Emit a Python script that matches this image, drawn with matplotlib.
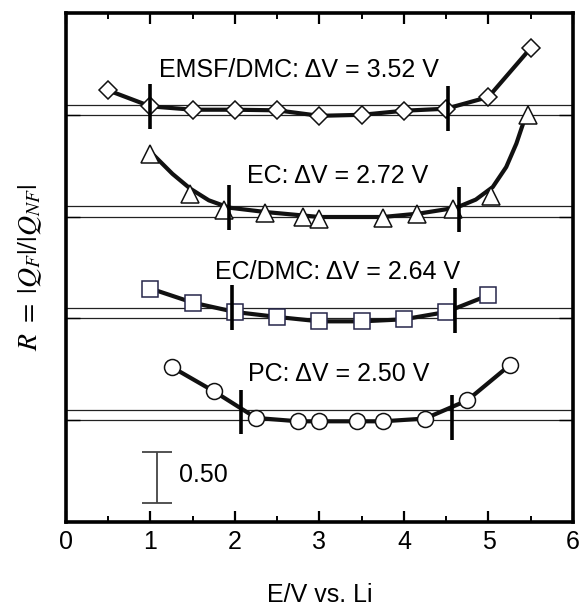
# R = |QF|/|QNF| vs potential for four electrolytes (stacked, offset by 1)
import numpy as np
import matplotlib.pyplot as plt
from matplotlib.ticker import MultipleLocator

plt.rcParams['font.family'] = ['Liberation Sans', 'DejaVu Sans']
plt.rcParams['mathtext.fontset'] = 'stix'

# --- data ---
# EMSF/DMC (diamonds)
emsf_x = [0.5, 1.0, 1.5, 2.0, 2.5, 3.0, 3.5, 4.0, 4.5, 5.0, 5.5]
emsf_r = [1.24, 1.083, 1.05, 1.05, 1.044, 0.99, 1.0, 1.04, 1.06, 1.175, 1.656]
emsf_lim = [1.0, 4.52]
emsf_bar_r = [1.085, 1.06]

# EC (triangles) + its smooth trend curve
ec_x = [1.0, 1.47, 1.87, 2.36, 2.8, 3.0, 3.75, 4.16, 4.58, 5.03, 5.47]
ec_r = [1.619, 1.219, 1.069, 1.035, 0.996, 0.98, 0.99, 1.023, 1.078, 1.199, 1.995]
ec_fit_x = [1.02, 1.26, 1.47, 1.69, 1.93, 2.36, 3.0, 3.75, 4.18, 4.62, 4.85, 5.05,
            5.21, 5.33, 5.41, 5.45]
ec_fit_r = [1.619, 1.42, 1.275, 1.16, 1.088, 1.045, 0.996, 0.996, 1.03, 1.088, 1.167,
            1.29, 1.487, 1.717, 1.914, 1.98]
ec_lim = [1.93, 4.65]
ec_bar_r = [1.089, 1.07]

# EC/DMC (squares)
ecdmc_x = [1.0, 1.5, 2.0, 2.5, 3.0, 3.5, 4.0, 4.5, 5.0]
ecdmc_r = [1.293, 1.155, 1.063, 1.014, 0.971, 0.971, 0.991, 1.063, 1.227]
ecdmc_lim = [1.96, 4.60]
ecdmc_bar_r = [1.104, 1.075]

# PC (circles)
pc_x = [1.25, 1.75, 2.25, 2.75, 3.0, 3.45, 3.75, 4.25, 4.75, 5.25]
pc_r = [1.523, 1.284, 1.022, 0.989, 0.989, 0.989, 0.989, 1.016, 1.195, 1.539]
pc_lim = [2.07, 4.57]
pc_bar_r = [1.081, 1.027]

labels = ['PC: \u0394V = 2.50 V', 'EC/DMC: \u0394V = 2.64 V',
          'EC: \u0394V = 2.72 V', 'EMSF/DMC: \u0394V = 3.52 V']
offsets = [0, 1, 2, 3]
band = [1.0, 1.1]   # R window lines
scale_len = 0.50

FS = 18

fig = plt.figure(figsize=(5.87, 6.11), dpi=100)
ax = fig.add_axes([0.1124, 0.1457, 0.8637, 0.8330])

# threshold band lines for each curve
for off in offsets:
    for b in band:
        ax.axhline(b + off, color='#222222', lw=0.9, zorder=1)

curve_kw = dict(color='#111111', lw=3.0, solid_joinstyle='round',
                solid_capstyle='round', zorder=2)
mark_kw = dict(ls='none', mfc='white', mew=1.1, zorder=4)

# PC
ax.plot(pc_x, np.array(pc_r) + offsets[0], **curve_kw)
ax.plot(pc_x, np.array(pc_r) + offsets[0], marker='o', ms=11.5, mec='#111111', **mark_kw)
# EC/DMC
ax.plot(ecdmc_x, np.array(ecdmc_r) + offsets[1], **curve_kw)
ax.plot(ecdmc_x, np.array(ecdmc_r) + offsets[1], marker='s', ms=11.5, mec='#26264a', **mark_kw)
# EC
ax.plot(ec_fit_x, np.array(ec_fit_r) + offsets[2], **curve_kw)
ax.plot(ec_x, np.array(ec_r) + offsets[2], marker='^', ms=13, mec='#111111', **mark_kw)
# EMSF/DMC
ax.plot(emsf_x, np.array(emsf_r) + offsets[3], **curve_kw)
ax.plot(emsf_x, np.array(emsf_r) + offsets[3], marker='D', ms=9.5, mec='#111111', **mark_kw)

# vertical bars marking the stability window
for lim, bar_r, off in [(pc_lim, pc_bar_r, 0), (ecdmc_lim, ecdmc_bar_r, 1),
                        (ec_lim, ec_bar_r, 2), (emsf_lim, emsf_bar_r, 3)]:
    for xv, rv in zip(lim, bar_r):
        ax.plot([xv, xv], [rv + off - 0.22, rv + off + 0.22], color='black',
                lw=2.6, solid_capstyle='butt', zorder=5)

# curve labels
ax.text(3.23, 1.458, labels[0], ha='center', va='center', fontsize=FS)
ax.text(3.21, 2.456, labels[1], ha='center', va='center', fontsize=FS)
ax.text(3.21, 3.40, labels[2], ha='center', va='center', fontsize=FS)
ax.text(2.76, 4.437, labels[3], ha='center', va='center', fontsize=FS)

# scale bar
ax.errorbar([1.08], [0.435], yerr=[scale_len / 2], color='#444444', lw=1.3,
            capsize=11, capthick=1.3, zorder=3)
ax.text(1.34, 0.46, '%.2f' % scale_len, ha='left', va='center', fontsize=FS)

ax.set_xlim(0, 6)
ax.set_ylim(0, 5)
ax.xaxis.set_major_locator(MultipleLocator(1))
ax.xaxis.set_minor_locator(MultipleLocator(0.5))
ax.set_yticks([1, 2, 3, 4])
ax.set_yticklabels([])
ax.tick_params(axis='x', which='major', direction='in', top=True, length=8,
               width=1.6, labelsize=FS, pad=6)
ax.tick_params(axis='x', which='minor', direction='in', top=True, length=4, width=1.4)
ax.tick_params(axis='y', which='major', direction='in', right=True, length=10, width=1.0)
for sp in ax.spines.values():
    sp.set_linewidth(2.6)

ax.set_xlabel('E/V vs. Li', fontsize=FS, labelpad=21)
ax.set_ylabel(r'$R\ =\ |Q_F|/|Q_{NF}|$', fontsize=20, labelpad=12)

fig.savefig('out.png', dpi=100)
